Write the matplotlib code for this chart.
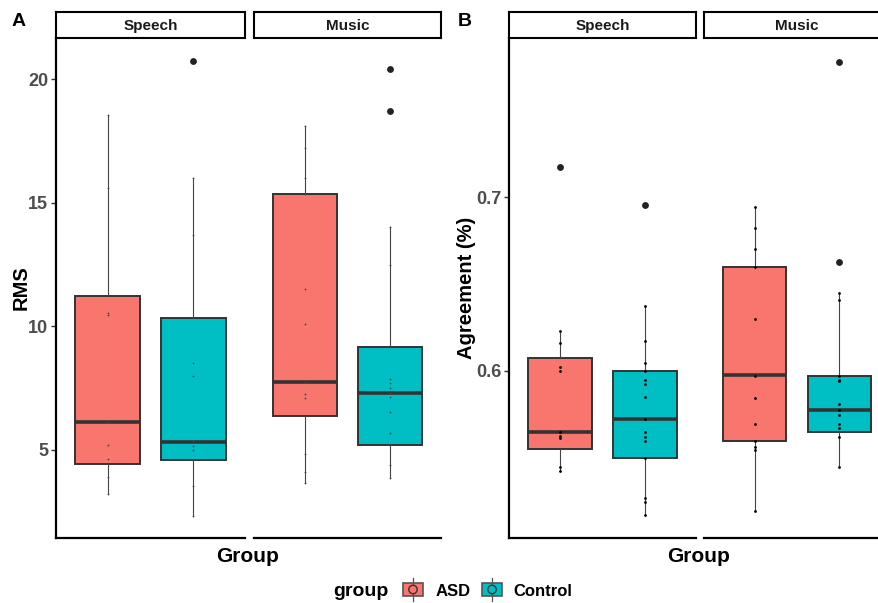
import matplotlib
matplotlib.use("Agg")
import matplotlib.pyplot as plt
from matplotlib.patches import Rectangle, Circle
from matplotlib.lines import Line2D

plt.rcParams['font.family'] = ['Liberation Sans', 'DejaVu Sans']
plt.rcParams['font.weight'] = 'bold'

W, H = 879, 603
DPI = 100

groups = ["ASD", "Control"]
fill_colors = ["#F8766D", "#00BFC4"]
facets = ["Speech", "Music"]

# ---- Panel A: RMS box statistics (whislo, q1, med, q3, whishi) ----
rms_speech_asd = [3.22, 4.43, 6.13, 11.23, 18.54]
rms_speech_ctrl = [2.33, 4.59, 5.32, 10.34, 16.0]
rms_music_asd = [3.66, 6.37, 7.75, 15.35, 18.1]
rms_music_ctrl = [3.87, 5.2, 7.3, 9.16, 14.02]
rms_out_speech_asd = []
rms_out_speech_ctrl = [20.73]
rms_out_music_asd = []
rms_out_music_ctrl = [20.4, 18.72]
rms_pts_speech_asd = [18.54, 15.6, 10.55, 10.45, 6.13, 5.2, 4.65, 3.9, 3.22]
rms_pts_speech_ctrl = [16.0, 13.7, 8.5, 8.0, 5.35, 5.15, 5.0, 4.6, 3.55, 2.33]
rms_pts_music_asd = [18.1, 17.2, 16.0, 15.35, 11.5, 10.1, 7.75, 7.25, 7.1, 4.85, 4.1, 3.66]
rms_pts_music_ctrl = [14.02, 12.5, 7.85, 7.7, 7.5, 7.3, 7.15, 6.55, 5.7, 5.2, 4.4, 3.87]
rms_ticks = [5, 10, 15, 20]

# ---- Panel B: agreement box statistics ----
agr_speech_asd = [0.5425, 0.555, 0.565, 0.6075, 0.623]
agr_speech_ctrl = [0.5172, 0.550, 0.5724, 0.600, 0.6374]
agr_music_asd = [0.5195, 0.560, 0.5975, 0.660, 0.6944]
agr_music_ctrl = [0.545, 0.565, 0.5777, 0.597, 0.645]
agr_out_speech_asd = [0.7172]
agr_out_speech_ctrl = [0.6954]
agr_out_music_asd = []
agr_out_music_ctrl = [0.7776, 0.6626]
agr_pts_speech_asd = [0.623, 0.616, 0.6025, 0.600, 0.565, 0.5625, 0.5615, 0.545, 0.5425]
agr_pts_speech_ctrl = [0.6374, 0.617, 0.6048, 0.600, 0.5948, 0.5925, 0.585, 0.5722,
                       0.565, 0.562, 0.5598, 0.550, 0.527, 0.5247, 0.5172]
agr_pts_music_asd = [0.6944, 0.6824, 0.670, 0.660, 0.630, 0.5973, 0.5847, 0.5697,
                     0.560, 0.5565, 0.5546, 0.5195]
agr_pts_music_ctrl = [0.645, 0.641, 0.5971, 0.595, 0.5945, 0.5812, 0.5777, 0.5747,
                      0.5697, 0.5672, 0.5622, 0.545]
agr_ticks = [0.6, 0.7]

fig = plt.figure(figsize=(W / DPI, H / DPI), dpi=DPI)


def px_axes(x0, y0, x1, y1, **kw):
    return fig.add_axes([x0 / W, 1 - y1 / H, (x1 - x0) / W, (y1 - y0) / H], **kw)


def stats_of(five, fliers):
    lo, q1, med, q3, hi = five
    return dict(whislo=lo, q1=q1, med=med, q3=q3, whishi=hi, fliers=fliers)


def draw_facet(ax, boxes, outs, pts, ylim, first, ticks, dot_size, dot_color):
    for i, (five, fl, p) in enumerate(zip(boxes, outs, pts)):
        pos = i + 1
        ax.bxp([stats_of(five, fl)], positions=[pos], widths=0.75,
               patch_artist=True, showcaps=False, showfliers=True,
               boxprops=dict(facecolor=fill_colors[i], edgecolor="#333333", linewidth=1.4),
               medianprops=dict(color="#333333", linewidth=2.6),
               whiskerprops=dict(color="#444444", linewidth=0.8),
               flierprops=dict(marker="o", markerfacecolor="#222222",
                               markeredgecolor="#222222", markersize=3.9))
        ax.plot([pos] * len(p), p, linestyle="none", marker="o", markersize=dot_size,
                markeredgewidth=0, color=dot_color, zorder=5)
    ax.set_xlim(0.4, 2.6)
    ax.set_ylim(*ylim)
    ax.set_xticks([])
    for s in ["top", "right"]:
        ax.spines[s].set_visible(False)
    ax.spines["bottom"].set_linewidth(1.6)
    ax.spines["bottom"].set_color("black")
    if first:
        ax.spines["left"].set_linewidth(1.6)
        ax.spines["left"].set_color("black")
        ax.set_yticks(ticks)
        ax.set_yticklabels([f"{t:g}" for t in ticks], fontsize=13,
                           fontweight="bold", color="#4D4D4D")
        ax.tick_params(axis="y", length=3.5, width=1.0, color="#333333", pad=2)
    else:
        ax.spines["left"].set_visible(False)
        ax.set_yticks([])
    ax.patch.set_alpha(0)


def strip(x0, x1, label):
    sa = px_axes(x0, 12, x1, 38)
    sa.set_xticks([])
    sa.set_yticks([])
    for s in sa.spines.values():
        s.set_linewidth(1.5)
        s.set_color("black")
    sa.text(0.5, 0.47, label, ha="center", va="center", fontsize=11,
            fontweight="bold", color="#1A1A1A", transform=sa.transAxes)


# Panel A
rms_lim = (1.44, 21.66)
a1 = px_axes(56, 38, 245, 538)
draw_facet(a1, [rms_speech_asd, rms_speech_ctrl],
           [rms_out_speech_asd, rms_out_speech_ctrl],
           [rms_pts_speech_asd, rms_pts_speech_ctrl], rms_lim, True, rms_ticks,
           1.3, "#444444")
a2 = px_axes(254, 38, 441, 538)
draw_facet(a2, [rms_music_asd, rms_music_ctrl],
           [rms_out_music_asd, rms_out_music_ctrl],
           [rms_pts_music_asd, rms_pts_music_ctrl], rms_lim, False, rms_ticks,
           1.3, "#444444")
strip(56, 245, facets[0])
strip(254, 441, facets[1])

# Panel B
agr_lim = (0.504, 0.7914)
b1 = px_axes(509, 38, 696, 538)
draw_facet(b1, [agr_speech_asd, agr_speech_ctrl],
           [agr_out_speech_asd, agr_out_speech_ctrl],
           [agr_pts_speech_asd, agr_pts_speech_ctrl], agr_lim, True, agr_ticks,
           2.0, "black")
b2 = px_axes(704, 38, 890, 538)
draw_facet(b2, [agr_music_asd, agr_music_ctrl],
           [agr_out_music_asd, agr_out_music_ctrl],
           [agr_pts_music_asd, agr_pts_music_ctrl], agr_lim, False, agr_ticks,
           2.0, "black")
strip(509, 696, facets[0])
strip(704, 890, facets[1])


def ftext(x, y, s, **kw):
    fig.text(x / W, 1 - y / H, s, **kw)


# Panel tags and axis titles
ftext(19, 22, "A", ha="center", va="center", fontsize=14, fontweight="bold")
ftext(465, 22, "B", ha="center", va="center", fontsize=14, fontweight="bold")
ftext(21, 288, "RMS", ha="center", va="center", rotation=90, fontsize=14.5, fontweight="bold")
ftext(467, 288, "Agreement (%)", ha="center", va="center", rotation=90,
      fontsize=14.5, fontweight="bold")
ftext(248, 556, "Group", ha="center", va="center", fontsize=15, fontweight="bold")
ftext(699, 556, "Group", ha="center", va="center", fontsize=15, fontweight="bold")

# Legend at the bottom
leg = px_axes(0, 570, W, 603)
leg.set_xlim(0, W)
leg.set_ylim(603, 570)
leg.axis("off")
leg.text(361, 591, "group", ha="center", va="center", fontsize=14, fontweight="bold")
key_x = [403, 482]
label_x = [436, 513]
for kx, lx, col, name in zip(key_x, label_x, fill_colors, groups):
    leg.add_line(Line2D([kx + 10, kx + 10], [578, 601], color="#555555", linewidth=0.9))
    leg.add_patch(Rectangle((kx, 583), 20, 13, facecolor=col, edgecolor="#555555",
                            linewidth=1.2))
    leg.add_patch(Circle((kx + 10, 589.5), 4.2, facecolor=col, edgecolor="#333333",
                         linewidth=1.0, zorder=3))
    leg.text(lx, 591, name, ha="left", va="center", fontsize=12, fontweight="bold")

fig.savefig("out.png", dpi=DPI)
